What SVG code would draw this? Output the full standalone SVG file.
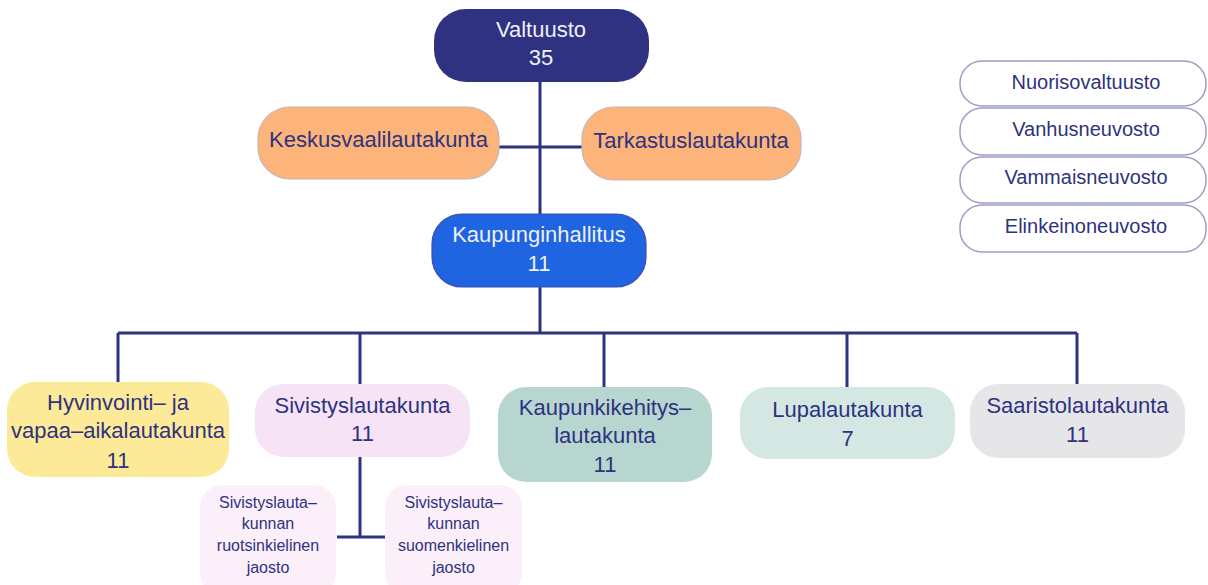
<svg xmlns="http://www.w3.org/2000/svg" width="1208" height="585" viewBox="0 0 1208 585">
<style>
text{font-family:"Liberation Sans",Arial,sans-serif;text-anchor:middle;fill:#2e3280}
.t{font-size:22px}
.w{fill:#eef0fb}
.s{font-size:16px}
.r{font-size:20px}
.ln{stroke:#2e3280;stroke-width:3;fill:none}
.side{fill:#ffffff;stroke:#9c9ec8;stroke-width:1.5}
</style>
<rect width="1208" height="585" fill="#ffffff"/>
<g id="connectors">
<path class="ln" d="M540 82V214M499 147H582M540 287V333M118 333H1077M118 333V382M360 333V384M604 333V387M847 333V387M1077 333V384M360 457V537M337 537H385"/>
</g>
<g id="valtuusto">
<rect x="434" y="9" width="215" height="73" rx="32" fill="#2e3280"/>
<text class="t w" x="541" y="37">Valtuusto</text>
<text class="t w" x="541" y="65">35</text>
</g>
<g id="keskusvaalilautakunta">
<rect x="258" y="107" width="241" height="72" rx="32" fill="#fcb47a" stroke="#c9b4b4" stroke-width="1.2"/>
<text class="t" x="378.5" y="147">Keskusvaalilautakunta</text>
</g>
<g id="tarkastuslautakunta">
<rect x="582" y="107" width="219" height="73" rx="32" fill="#fcb47a" stroke="#c9b4b4" stroke-width="1.2"/>
<text class="t" x="691" y="148">Tarkastuslautakunta</text>
</g>
<g id="kaupunginhallitus">
<rect x="432" y="214" width="214" height="73" rx="30" fill="#1f64e0" stroke="#3a4fb0" stroke-width="1.2"/>
<text class="t w" x="539" y="242">Kaupunginhallitus</text>
<text class="t w" x="539" y="271">11</text>
</g>
<g id="hyvinvointi">
<rect x="7" y="382" width="222" height="95" rx="28" fill="#fdea98"/>
<text class="t" x="118" y="410">Hyvinvointi– ja</text>
<text class="t" x="118" y="438">vapaa–aikalautakunta</text>
<text class="t" x="118" y="468">11</text>
</g>
<g id="sivistyslautakunta">
<rect x="255" y="384" width="215" height="73" rx="28" fill="#f6e3f6"/>
<text class="t" x="362.5" y="413">Sivistyslautakunta</text>
<text class="t" x="362.5" y="441">11</text>
</g>
<g id="kaupunkikehitys">
<rect x="498" y="387" width="214" height="95" rx="28" fill="#b7d6cf"/>
<text class="t" x="605" y="415">Kaupunkikehitys–</text>
<text class="t" x="605" y="443">lautakunta</text>
<text class="t" x="605" y="472">11</text>
</g>
<g id="lupalautakunta">
<rect x="740" y="387" width="215" height="72" rx="28" fill="#d4e7e3"/>
<text class="t" x="847.5" y="417">Lupalautakunta</text>
<text class="t" x="847.5" y="446">7</text>
</g>
<g id="saaristolautakunta">
<rect x="970" y="384" width="215" height="74" rx="28" fill="#e6e6e9"/>
<text class="t" x="1077.5" y="413">Saaristolautakunta</text>
<text class="t" x="1077.5" y="442">11</text>
</g>
<g id="ruotsinkielinen-jaosto">
<rect x="200" y="485" width="136" height="110" rx="22" fill="#fbeffa"/>
<text class="s" x="268" y="508">Sivistyslauta–</text>
<text class="s" x="268" y="529">kunnan</text>
<text class="s" x="268" y="551">ruotsinkielinen</text>
<text class="s" x="268" y="573">jaosto</text>
</g>
<g id="suomenkielinen-jaosto">
<rect x="385" y="485" width="137" height="110" rx="22" fill="#fbeffa"/>
<text class="s" x="453.5" y="508">Sivistyslauta–</text>
<text class="s" x="453.5" y="529">kunnan</text>
<text class="s" x="453.5" y="551">suomenkielinen</text>
<text class="s" x="453.5" y="573">jaosto</text>
</g>
<g id="nuorisovaltuusto">
<rect class="side" x="960" y="61" width="246" height="45" rx="22"/>
<text class="r" x="1086" y="89">Nuorisovaltuusto</text>
</g>
<g id="vanhusneuvosto">
<rect class="side" x="960" y="108" width="246" height="47" rx="22"/>
<text class="r" x="1086" y="136">Vanhusneuvosto</text>
</g>
<g id="vammaisneuvosto">
<rect class="side" x="960" y="157" width="246" height="46" rx="22"/>
<text class="r" x="1086" y="184">Vammaisneuvosto</text>
</g>
<g id="elinkeinoneuvosto">
<rect class="side" x="960" y="205" width="246" height="47" rx="22"/>
<text class="r" x="1086" y="233">Elinkeinoneuvosto</text>
</g>
</svg>
